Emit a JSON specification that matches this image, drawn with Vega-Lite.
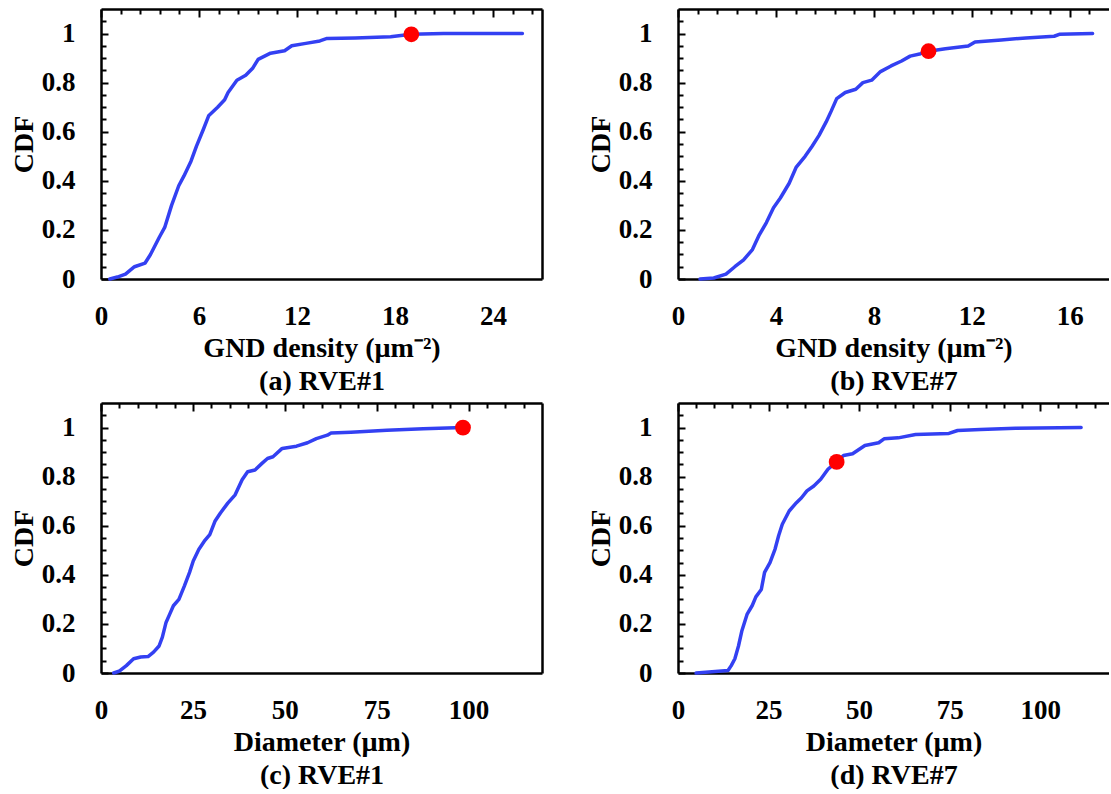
{
  "$schema": "https://vega.github.io/schema/vega-lite/v6.json",
  "background": "white",
  "padding": {"left": 10, "top": 9, "right": 0, "bottom": 0},
  "config": {
    "view": {"stroke": null},
    "font": "Liberation Serif",
    "axis": {
      "grid": false,
      "ticks": false,
      "gridColor": "black",
      "gridWidth": 2,
      "gridOpacity": 1,
      "labelFont": "Liberation Serif",
      "labelFontSize": 27,
      "labelFontWeight": "bold",
      "labelColor": "black",
      "labelFlush": false,
      "labelOverlap": false,
      "titleFont": "Liberation Serif",
      "titleFontSize": 28,
      "titleFontWeight": "bold",
      "titleColor": "black",
      "domainColor": "black",
      "domainWidth": 2.5
    },
    "axisX": {"labelPadding": 24, "titlePadding": 5, "titleLineHeight": 33},
    "axisY": {"labelPadding": 26, "titlePadding": 3}
  },
  "datasets": {
    "rve1_gnd": [
      {"gnd": 0.54, "cdf": 0}, {"gnd": 1.0, "cdf": 0.008}, {"gnd": 1.5, "cdf": 0.02}, {"gnd": 2.05, "cdf": 0.05},
      {"gnd": 2.7, "cdf": 0.065}, {"gnd": 3.03, "cdf": 0.1}, {"gnd": 3.57, "cdf": 0.17}, {"gnd": 3.9, "cdf": 0.21},
      {"gnd": 4.32, "cdf": 0.3}, {"gnd": 4.76, "cdf": 0.38}, {"gnd": 5.08, "cdf": 0.42}, {"gnd": 5.51, "cdf": 0.48},
      {"gnd": 5.84, "cdf": 0.54}, {"gnd": 6.27, "cdf": 0.61}, {"gnd": 6.59, "cdf": 0.665}, {"gnd": 7.14, "cdf": 0.7},
      {"gnd": 7.57, "cdf": 0.73}, {"gnd": 7.78, "cdf": 0.76}, {"gnd": 8.32, "cdf": 0.81}, {"gnd": 8.86, "cdf": 0.83},
      {"gnd": 9.3, "cdf": 0.86}, {"gnd": 9.62, "cdf": 0.895}, {"gnd": 10.38, "cdf": 0.92}, {"gnd": 11.24, "cdf": 0.93},
      {"gnd": 11.68, "cdf": 0.95}, {"gnd": 12.54, "cdf": 0.96}, {"gnd": 13.4, "cdf": 0.97}, {"gnd": 13.84, "cdf": 0.98},
      {"gnd": 15.57, "cdf": 0.982}, {"gnd": 17.73, "cdf": 0.987}, {"gnd": 19.0, "cdf": 0.997}, {"gnd": 20.97, "cdf": 1.0},
      {"gnd": 25.8, "cdf": 1.0}
    ],
    "rve1_gnd_mark": [{"gnd": 19.0, "cdf": 0.997}],
    "rve7_gnd": [
      {"gnd": 0.9, "cdf": 0}, {"gnd": 1.46, "cdf": 0.004}, {"gnd": 1.96, "cdf": 0.02}, {"gnd": 2.32, "cdf": 0.05},
      {"gnd": 2.68, "cdf": 0.078}, {"gnd": 3.04, "cdf": 0.12}, {"gnd": 3.32, "cdf": 0.18}, {"gnd": 3.61, "cdf": 0.23},
      {"gnd": 3.9, "cdf": 0.29}, {"gnd": 4.18, "cdf": 0.33}, {"gnd": 4.54, "cdf": 0.39}, {"gnd": 4.83, "cdf": 0.456},
      {"gnd": 5.19, "cdf": 0.5}, {"gnd": 5.47, "cdf": 0.54}, {"gnd": 5.76, "cdf": 0.585}, {"gnd": 6.05, "cdf": 0.64},
      {"gnd": 6.26, "cdf": 0.685}, {"gnd": 6.48, "cdf": 0.735}, {"gnd": 6.83, "cdf": 0.76}, {"gnd": 7.26, "cdf": 0.773},
      {"gnd": 7.55, "cdf": 0.8}, {"gnd": 7.91, "cdf": 0.81}, {"gnd": 8.27, "cdf": 0.845}, {"gnd": 8.7, "cdf": 0.868},
      {"gnd": 9.13, "cdf": 0.888}, {"gnd": 9.48, "cdf": 0.908}, {"gnd": 9.91, "cdf": 0.918}, {"gnd": 10.23, "cdf": 0.928},
      {"gnd": 10.92, "cdf": 0.938}, {"gnd": 11.85, "cdf": 0.949}, {"gnd": 12.13, "cdf": 0.966}, {"gnd": 13.2, "cdf": 0.974},
      {"gnd": 14.21, "cdf": 0.982}, {"gnd": 15.36, "cdf": 0.989}, {"gnd": 15.57, "cdf": 0.997}, {"gnd": 16.93, "cdf": 1.0}
    ],
    "rve7_gnd_mark": [{"gnd": 10.23, "cdf": 0.928}],
    "rve1_dia": [
      {"diameter": 3.45, "cdf": 0}, {"diameter": 4.9, "cdf": 0.007}, {"diameter": 6.9, "cdf": 0.03}, {"diameter": 8.87, "cdf": 0.058},
      {"diameter": 10.8, "cdf": 0.065}, {"diameter": 12.8, "cdf": 0.067}, {"diameter": 14.3, "cdf": 0.085}, {"diameter": 15.8, "cdf": 0.11},
      {"diameter": 16.7, "cdf": 0.146}, {"diameter": 17.7, "cdf": 0.206}, {"diameter": 18.7, "cdf": 0.24}, {"diameter": 19.7, "cdf": 0.274},
      {"diameter": 21.2, "cdf": 0.3}, {"diameter": 22.7, "cdf": 0.355}, {"diameter": 24.1, "cdf": 0.41}, {"diameter": 25.1, "cdf": 0.456},
      {"diameter": 26.6, "cdf": 0.503}, {"diameter": 28.1, "cdf": 0.537}, {"diameter": 29.6, "cdf": 0.564}, {"diameter": 31.0, "cdf": 0.618},
      {"diameter": 32.5, "cdf": 0.652}, {"diameter": 34.5, "cdf": 0.692}, {"diameter": 36.5, "cdf": 0.726}, {"diameter": 38.4, "cdf": 0.787},
      {"diameter": 39.9, "cdf": 0.82}, {"diameter": 41.9, "cdf": 0.827}, {"diameter": 43.8, "cdf": 0.854}, {"diameter": 45.3, "cdf": 0.874},
      {"diameter": 46.8, "cdf": 0.881}, {"diameter": 49.3, "cdf": 0.915}, {"diameter": 53.2, "cdf": 0.924}, {"diameter": 56.2, "cdf": 0.938},
      {"diameter": 58.6, "cdf": 0.955}, {"diameter": 61.6, "cdf": 0.969}, {"diameter": 62.6, "cdf": 0.978}, {"diameter": 68.0, "cdf": 0.981},
      {"diameter": 77.8, "cdf": 0.989}, {"diameter": 87.7, "cdf": 0.995}, {"diameter": 98.5, "cdf": 1.0}
    ],
    "rve1_dia_mark": [{"diameter": 98.5, "cdf": 1.0}],
    "rve7_dia": [
      {"diameter": 5.0, "cdf": 0}, {"diameter": 13.8, "cdf": 0.01}, {"diameter": 14.7, "cdf": 0.03}, {"diameter": 15.7, "cdf": 0.058},
      {"diameter": 16.7, "cdf": 0.11}, {"diameter": 17.6, "cdf": 0.17}, {"diameter": 19.1, "cdf": 0.24}, {"diameter": 20.5, "cdf": 0.275},
      {"diameter": 21.5, "cdf": 0.31}, {"diameter": 23.0, "cdf": 0.34}, {"diameter": 23.9, "cdf": 0.41}, {"diameter": 25.4, "cdf": 0.45},
      {"diameter": 26.8, "cdf": 0.505}, {"diameter": 27.8, "cdf": 0.56}, {"diameter": 28.8, "cdf": 0.606}, {"diameter": 30.7, "cdf": 0.66},
      {"diameter": 32.7, "cdf": 0.694}, {"diameter": 34.1, "cdf": 0.714}, {"diameter": 35.6, "cdf": 0.742}, {"diameter": 37.5, "cdf": 0.762},
      {"diameter": 39.4, "cdf": 0.789}, {"diameter": 41.4, "cdf": 0.83}, {"diameter": 43.8, "cdf": 0.86}, {"diameter": 45.7, "cdf": 0.886},
      {"diameter": 48.2, "cdf": 0.893}, {"diameter": 51.6, "cdf": 0.927}, {"diameter": 55.4, "cdf": 0.938}, {"diameter": 56.9, "cdf": 0.954},
      {"diameter": 60.8, "cdf": 0.958}, {"diameter": 65.6, "cdf": 0.972}, {"diameter": 74.8, "cdf": 0.976}, {"diameter": 77.2, "cdf": 0.988},
      {"diameter": 83.5, "cdf": 0.992}, {"diameter": 93.2, "cdf": 0.997}, {"diameter": 111.3, "cdf": 1.0}
    ],
    "rve7_dia_mark": [{"diameter": 43.8, "cdf": 0.86}]
  },
  "columns": 2,
  "spacing": {"row": 8, "column": 45},
  "concat": [
    {
      "width": 441,
      "height": 270,
      "resolve": {"axis": {"x": "independent", "y": "independent"}},
      "layer": [
        {
          "data": {"name": "rve1_gnd"},
          "mark": {"type": "line", "color": "#3340f2", "strokeWidth": 3.5, "strokeCap": "round", "strokeJoin": "round"},
          "encoding": {
            "x": {"field": "gnd", "type": "quantitative", "scale": {"domain": [0, 27], "nice": false, "zero": false},
                  "axis": {"orient": "bottom", "domain": false, "grid": true, "gridDash": [8, 2000], "values": [0, 6, 12, 18, 24], "format": "d", "title": ["GND density (µm⁻²)", "(a) RVE#1"]}},
            "y": {"field": "cdf", "type": "quantitative", "scale": {"domain": [0, 1.1], "nice": false},
                  "axis": {"orient": "left", "domain": false, "grid": true, "gridDash": [7, 2000], "values": [0, 0.2, 0.4, 0.6, 0.8, 1], "format": "~g", "title": "CDF"}}
          }
        },
        {
          "data": {"name": "rve1_gnd_mark"},
          "mark": {"type": "circle", "color": "#ff0000", "size": 250, "opacity": 1},
          "encoding": {
            "x": {"field": "gnd", "type": "quantitative", "scale": {"domain": [0, 27], "nice": false, "zero": false},
                  "axis": {"orient": "bottom", "domain": false, "labels": false, "title": null, "grid": true, "gridDash": [5, 2000], "values": [1.2, 2.4, 3.6, 4.8, 7.2, 8.4, 9.6, 10.8, 13.2, 14.4, 15.6, 16.8, 19.2, 20.4, 21.6, 22.8, 25.2, 26.4]}},
            "y": {"field": "cdf", "type": "quantitative", "scale": {"domain": [0, 1.1], "nice": false},
                  "axis": {"orient": "left", "domain": false, "labels": false, "title": null, "grid": true, "gridDash": [5, 2000], "values": [0.05, 0.1, 0.15, 0.25, 0.3, 0.35, 0.45, 0.5, 0.55, 0.65, 0.7, 0.75, 0.85, 0.9, 0.95, 1.05]}}
          }
        },
        {
          "data": {"name": "rve1_gnd"},
          "mark": {"type": "point", "opacity": 0},
          "encoding": {
            "x": {"field": "gnd", "type": "quantitative", "scale": {"domain": [0, 27], "nice": false, "zero": false},
                  "axis": {"orient": "bottom", "labels": false, "title": null}},
            "y": {"field": "cdf", "type": "quantitative", "scale": {"domain": [0, 1.1], "nice": false},
                  "axis": {"orient": "left", "labels": false, "title": null}}
          }
        },
        {
          "data": {"name": "rve1_gnd"},
          "mark": {"type": "point", "opacity": 0},
          "encoding": {
            "x": {"field": "gnd", "type": "quantitative", "scale": {"domain": [0, 27], "nice": false, "zero": false},
                  "axis": {"orient": "top", "labels": false, "title": null}},
            "y": {"field": "cdf", "type": "quantitative", "scale": {"domain": [0, 1.1], "nice": false},
                  "axis": {"orient": "right", "labels": false, "title": null}}
          }
        }
      ]
    },
    {
      "width": 431,
      "height": 270,
      "resolve": {"axis": {"x": "independent", "y": "independent"}},
      "layer": [
        {
          "data": {"name": "rve7_gnd"},
          "mark": {"type": "line", "color": "#3340f2", "strokeWidth": 3.5, "strokeCap": "round", "strokeJoin": "round"},
          "encoding": {
            "x": {"field": "gnd", "type": "quantitative", "scale": {"domain": [0, 17.6], "nice": false, "zero": false},
                  "axis": {"orient": "bottom", "domain": false, "grid": true, "gridDash": [8, 2000], "values": [0, 4, 8, 12, 16], "format": "d", "title": ["GND density (µm⁻²)", "(b) RVE#7"]}},
            "y": {"field": "cdf", "type": "quantitative", "scale": {"domain": [0, 1.1], "nice": false},
                  "axis": {"orient": "left", "domain": false, "grid": true, "gridDash": [7, 2000], "values": [0, 0.2, 0.4, 0.6, 0.8, 1], "format": "~g", "title": "CDF"}}
          }
        },
        {
          "data": {"name": "rve7_gnd_mark"},
          "mark": {"type": "circle", "color": "#ff0000", "size": 250, "opacity": 1},
          "encoding": {
            "x": {"field": "gnd", "type": "quantitative", "scale": {"domain": [0, 17.6], "nice": false, "zero": false},
                  "axis": {"orient": "bottom", "domain": false, "labels": false, "title": null, "grid": true, "gridDash": [5, 2000], "values": [0.8, 1.6, 2.4, 3.2, 4.8, 5.6, 6.4, 7.2, 8.8, 9.6, 10.4, 11.2, 12.8, 13.6, 14.4, 15.2, 16.8]}},
            "y": {"field": "cdf", "type": "quantitative", "scale": {"domain": [0, 1.1], "nice": false},
                  "axis": {"orient": "left", "domain": false, "labels": false, "title": null, "grid": true, "gridDash": [5, 2000], "values": [0.05, 0.1, 0.15, 0.25, 0.3, 0.35, 0.45, 0.5, 0.55, 0.65, 0.7, 0.75, 0.85, 0.9, 0.95, 1.05]}}
          }
        },
        {
          "data": {"name": "rve7_gnd"},
          "mark": {"type": "point", "opacity": 0},
          "encoding": {
            "x": {"field": "gnd", "type": "quantitative", "scale": {"domain": [0, 17.6], "nice": false, "zero": false},
                  "axis": {"orient": "bottom", "labels": false, "title": null}},
            "y": {"field": "cdf", "type": "quantitative", "scale": {"domain": [0, 1.1], "nice": false},
                  "axis": {"orient": "left", "labels": false, "title": null}}
          }
        },
        {
          "data": {"name": "rve7_gnd"},
          "mark": {"type": "point", "opacity": 0},
          "encoding": {
            "x": {"field": "gnd", "type": "quantitative", "scale": {"domain": [0, 17.6], "nice": false, "zero": false},
                  "axis": {"orient": "top", "labels": false, "title": null}},
            "y": {"field": "cdf", "type": "quantitative", "scale": {"domain": [0, 1.1], "nice": false}, "axis": null}
          }
        }
      ]
    },
    {
      "width": 441,
      "height": 270,
      "resolve": {"axis": {"x": "independent", "y": "independent"}},
      "layer": [
        {
          "data": {"name": "rve1_dia"},
          "mark": {"type": "line", "color": "#3340f2", "strokeWidth": 3.5, "strokeCap": "round", "strokeJoin": "round"},
          "encoding": {
            "x": {"field": "diameter", "type": "quantitative", "scale": {"domain": [0, 120], "nice": false, "zero": false},
                  "axis": {"orient": "bottom", "domain": false, "grid": true, "gridDash": [8, 2000], "values": [0, 25, 50, 75, 100], "format": "d", "title": ["Diameter (µm)", "(c) RVE#1"]}},
            "y": {"field": "cdf", "type": "quantitative", "scale": {"domain": [0, 1.1], "nice": false},
                  "axis": {"orient": "left", "domain": false, "grid": true, "gridDash": [7, 2000], "values": [0, 0.2, 0.4, 0.6, 0.8, 1], "format": "~g", "title": "CDF"}}
          }
        },
        {
          "data": {"name": "rve1_dia_mark"},
          "mark": {"type": "circle", "color": "#ff0000", "size": 250, "opacity": 1},
          "encoding": {
            "x": {"field": "diameter", "type": "quantitative", "scale": {"domain": [0, 120], "nice": false, "zero": false},
                  "axis": {"orient": "bottom", "domain": false, "labels": false, "title": null, "grid": true, "gridDash": [5, 2000], "values": [5, 10, 15, 20, 30, 35, 40, 45, 55, 60, 65, 70, 80, 85, 90, 95, 105, 110, 115]}},
            "y": {"field": "cdf", "type": "quantitative", "scale": {"domain": [0, 1.1], "nice": false},
                  "axis": {"orient": "left", "domain": false, "labels": false, "title": null, "grid": true, "gridDash": [5, 2000], "values": [0.05, 0.1, 0.15, 0.25, 0.3, 0.35, 0.45, 0.5, 0.55, 0.65, 0.7, 0.75, 0.85, 0.9, 0.95, 1.05]}}
          }
        },
        {
          "data": {"name": "rve1_dia"},
          "mark": {"type": "point", "opacity": 0},
          "encoding": {
            "x": {"field": "diameter", "type": "quantitative", "scale": {"domain": [0, 120], "nice": false, "zero": false},
                  "axis": {"orient": "bottom", "labels": false, "title": null}},
            "y": {"field": "cdf", "type": "quantitative", "scale": {"domain": [0, 1.1], "nice": false},
                  "axis": {"orient": "left", "labels": false, "title": null}}
          }
        },
        {
          "data": {"name": "rve1_dia"},
          "mark": {"type": "point", "opacity": 0},
          "encoding": {
            "x": {"field": "diameter", "type": "quantitative", "scale": {"domain": [0, 120], "nice": false, "zero": false},
                  "axis": {"orient": "top", "labels": false, "title": null}},
            "y": {"field": "cdf", "type": "quantitative", "scale": {"domain": [0, 1.1], "nice": false},
                  "axis": {"orient": "right", "labels": false, "title": null}}
          }
        }
      ]
    },
    {
      "width": 431,
      "height": 270,
      "resolve": {"axis": {"x": "independent", "y": "independent"}},
      "layer": [
        {
          "data": {"name": "rve7_dia"},
          "mark": {"type": "line", "color": "#3340f2", "strokeWidth": 3.5, "strokeCap": "round", "strokeJoin": "round"},
          "encoding": {
            "x": {"field": "diameter", "type": "quantitative", "scale": {"domain": [0, 119], "nice": false, "zero": false},
                  "axis": {"orient": "bottom", "domain": false, "grid": true, "gridDash": [8, 2000], "values": [0, 25, 50, 75, 100], "format": "d", "title": ["Diameter (µm)", "(d) RVE#7"]}},
            "y": {"field": "cdf", "type": "quantitative", "scale": {"domain": [0, 1.1], "nice": false},
                  "axis": {"orient": "left", "domain": false, "grid": true, "gridDash": [7, 2000], "values": [0, 0.2, 0.4, 0.6, 0.8, 1], "format": "~g", "title": "CDF"}}
          }
        },
        {
          "data": {"name": "rve7_dia_mark"},
          "mark": {"type": "circle", "color": "#ff0000", "size": 250, "opacity": 1},
          "encoding": {
            "x": {"field": "diameter", "type": "quantitative", "scale": {"domain": [0, 119], "nice": false, "zero": false},
                  "axis": {"orient": "bottom", "domain": false, "labels": false, "title": null, "grid": true, "gridDash": [5, 2000], "values": [5, 10, 15, 20, 30, 35, 40, 45, 55, 60, 65, 70, 80, 85, 90, 95, 105, 110, 115]}},
            "y": {"field": "cdf", "type": "quantitative", "scale": {"domain": [0, 1.1], "nice": false},
                  "axis": {"orient": "left", "domain": false, "labels": false, "title": null, "grid": true, "gridDash": [5, 2000], "values": [0.05, 0.1, 0.15, 0.25, 0.3, 0.35, 0.45, 0.5, 0.55, 0.65, 0.7, 0.75, 0.85, 0.9, 0.95, 1.05]}}
          }
        },
        {
          "data": {"name": "rve7_dia"},
          "mark": {"type": "point", "opacity": 0},
          "encoding": {
            "x": {"field": "diameter", "type": "quantitative", "scale": {"domain": [0, 119], "nice": false, "zero": false},
                  "axis": {"orient": "bottom", "labels": false, "title": null}},
            "y": {"field": "cdf", "type": "quantitative", "scale": {"domain": [0, 1.1], "nice": false},
                  "axis": {"orient": "left", "labels": false, "title": null}}
          }
        },
        {
          "data": {"name": "rve7_dia"},
          "mark": {"type": "point", "opacity": 0},
          "encoding": {
            "x": {"field": "diameter", "type": "quantitative", "scale": {"domain": [0, 119], "nice": false, "zero": false},
                  "axis": {"orient": "top", "labels": false, "title": null}},
            "y": {"field": "cdf", "type": "quantitative", "scale": {"domain": [0, 1.1], "nice": false}, "axis": null}
          }
        }
      ]
    }
  ]
}
